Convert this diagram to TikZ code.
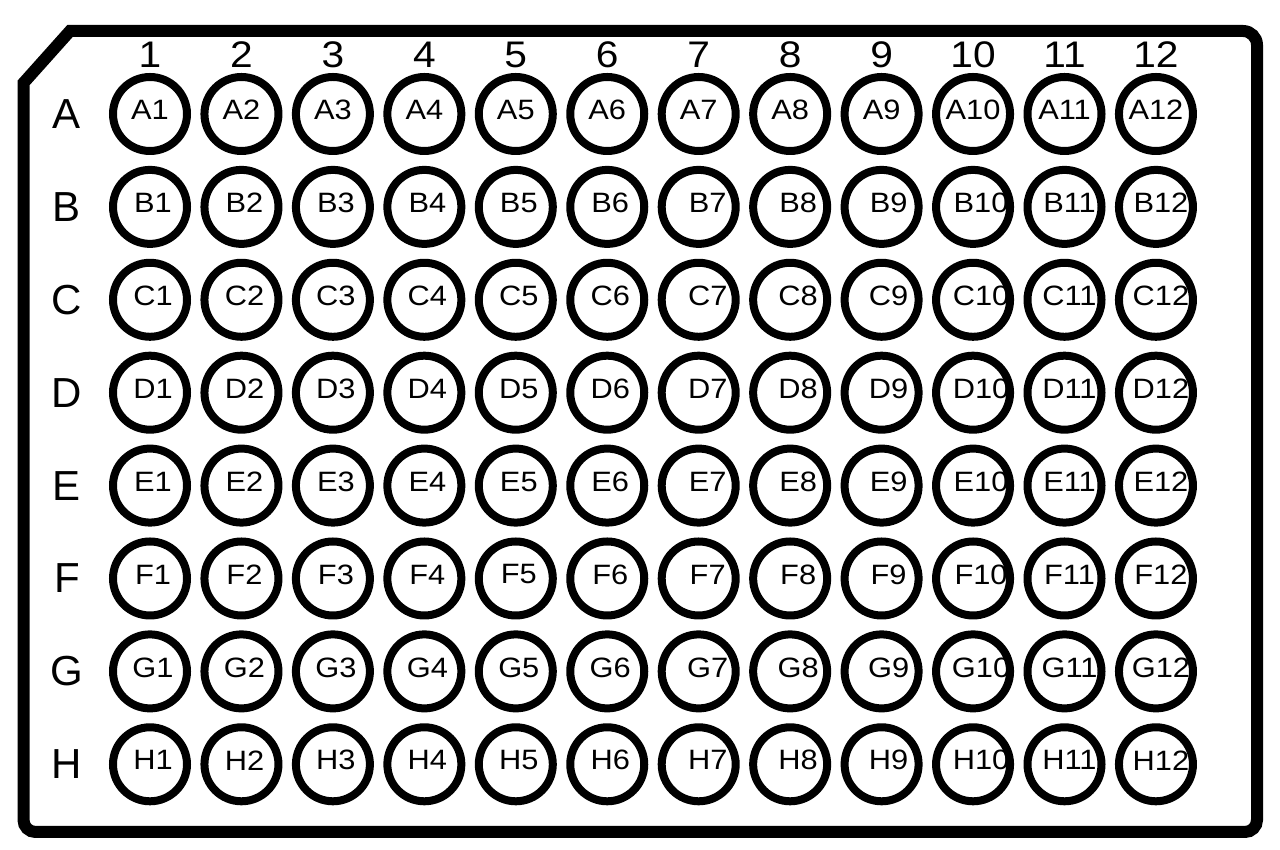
\documentclass[tikz,border=0pt]{standalone}
\usepackage{fontspec}
\setmainfont{Liberation Sans}
\newfontfamily\wellfont[FakeStretch=1.1]{Liberation Sans}
\begin{document}
\begin{tikzpicture}[x=1pt,y=1pt,
 plate/.style={line width=12pt, line join=miter},
 well/.style={circle, draw, line width=8pt, minimum size=74pt, inner sep=0pt},
 welltext/.style={font=\wellfont\fontsize{28}{28}\selectfont, inner sep=0pt},
 coltext/.style={font=\wellfont\fontsize{37}{37}\selectfont, inner sep=0pt},
 rowtext/.style={font=\fontsize{42}{42}\selectfont, inner sep=0pt}]
\useasboundingbox (0,0) rectangle (1280,850);
\draw[plate] (23.5,767) -- (70,819) -- (1243,819)
  arc[start angle=90,end angle=0,radius=14pt] -- (1257,30)
  arc[start angle=0,end angle=-90,radius=12pt] -- (35.5,18)
  arc[start angle=-90,end angle=-180,radius=12pt] -- cycle;
\foreach \c/\dx in {1/3,2/3,3/3,4/3,5/3,6/3,7/9,8/8,9/7,10/8,11/5,12/5} {
  \pgfmathsetmacro\cx{150+91.45*(\c-1)}
  \node[coltext] (col\c) at (\cx,795) {\c};
  \foreach \r [count=\i from 0] in {A,B,C,D,E,F,G,H} {
    \pgfmathsetmacro\cy{850-114-92.9*\i}
    \pgfmathsetmacro\ox{\i==0 ? 0 : \dx}
    \node[well] (\r\c) at (\cx,\cy) {};
    \node[welltext] (\r\c-t) at (\cx+\ox,\cy+4) {\r\c};
  }
}
\foreach \r [count=\i from 0] in {A,B,C,D,E,F,G,H} {
  \pgfmathsetmacro\cy{850-114-92.9*\i}
  \node[rowtext] (row\r) at (67,\cy) {\r};
}
\end{tikzpicture}
\end{document}
